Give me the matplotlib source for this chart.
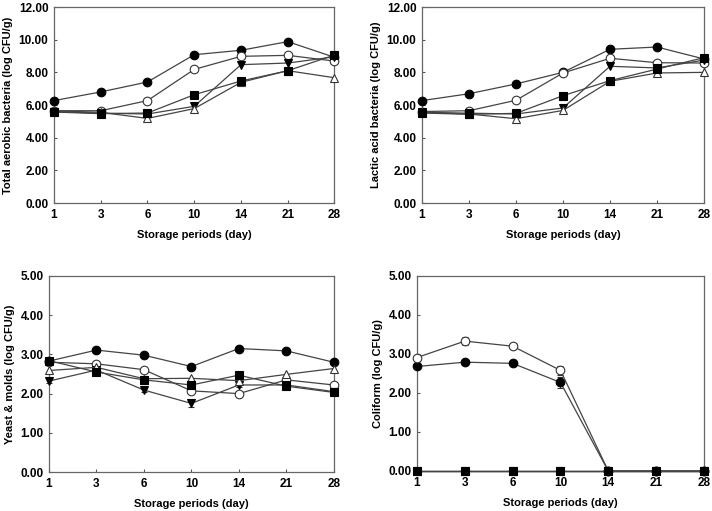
import numpy as np
import matplotlib
matplotlib.use("Agg")
import matplotlib.pyplot as plt

plt.rcParams["font.family"] = ["Liberation Sans", "DejaVu Sans"]
plt.rcParams["font.weight"] = "bold"

days = ["1", "3", "6", "10", "14", "21", "28"]

# total aerobic bacteria
tab_fc = [6.27, 6.80, 7.41, 9.08, 9.35, 9.88, 8.92]
tab_oc = [5.65, 5.65, 6.27, 8.18, 8.98, 9.04, 8.69]
tab_dt = [5.60, 5.50, 5.45, 5.92, 8.47, 8.57, 8.95]
tab_ot = [5.65, 5.55, 5.18, 5.78, 7.39, 8.10, 7.67]
tab_sq = [5.57, 5.47, 5.51, 6.63, 7.47, 8.10, 9.06]

# lactic acid bacteria
lab_fc = [6.27, 6.69, 7.29, 8.00, 9.41, 9.55, 8.82]
lab_oc = [5.60, 5.65, 6.29, 7.96, 8.86, 8.59, 8.57]
lab_dt = [5.55, 5.50, 5.45, 5.82, 8.37, 8.27, 8.75]
lab_ot = [5.55, 5.45, 5.16, 5.67, 7.45, 7.96, 8.00]
lab_sq = [5.51, 5.43, 5.49, 6.57, 7.49, 8.20, 8.90]

# yeast & molds
ym_fc = [2.83, 3.11, 2.98, 2.69, 3.15, 3.09, 2.80]
ym_oc = [2.80, 2.76, 2.61, 2.07, 2.00, 2.35, 2.22]
ym_dt = [2.32, 2.60, 2.09, 1.75, 2.22, 2.22, 2.05]
ym_ot = [2.59, 2.67, 2.38, 2.39, 2.33, 2.49, 2.64]
ym_sq = [2.84, 2.55, 2.35, 2.22, 2.47, 2.19, 2.03]
ym_dt_err = [0.06, 0.04, 0.04, 0.08, 0.05, 0.04, 0.04]

# coliform
col_fc = [2.68, 2.79, 2.76, 2.27, 0, 0, 0]
col_oc = [2.91, 3.33, 3.20, 2.58, 0, 0, 0]
col_dt = [0, 0, 0, 0, 0, 0, 0]
col_ot = [0, 0, 0, 0, 0, 0, 0]
col_sq = [0, 0, 0, 0, 0, 0, 0]
col_fc_err = [0.05, 0.04, 0.08, 0.15, 0, 0, 0]
col_oc_err = [0.05, 0.10, 0.04, 0.12, 0, 0, 0]

line_c = "#444444"
styles = [
    dict(marker="o", mfc="black", mec="black"),
    dict(marker="o", mfc="white", mec="#333333"),
    dict(marker="v", mfc="black", mec="black"),
    dict(marker="^", mfc="white", mec="#333333"),
    dict(marker="s", mfc="black", mec="black"),
]

fig = plt.figure(figsize=(7.12, 5.11), dpi=100)

panels = [
    ([0.0758, 0.6027, 0.394, 0.3836], [tab_fc, tab_oc, tab_dt, tab_ot, tab_sq],
     [None] * 5, 12, "Total aerobic bacteria (log CFU/g)"),
    ([0.5927, 0.6027, 0.396, 0.3836], [lab_fc, lab_oc, lab_dt, lab_ot, lab_sq],
     [None] * 5, 12, "Lactic acid bacteria (log CFU/g)"),
    ([0.0688, 0.0763, 0.400, 0.3836], [ym_fc, ym_oc, ym_dt, ym_ot, ym_sq],
     [None, None, ym_dt_err, None, None], 5, "Yeast & molds (log CFU/g)"),
    ([0.5857, 0.0783, 0.403, 0.3816], [col_fc, col_oc, col_dt, col_ot, col_sq],
     [col_fc_err, col_oc_err, None, None, None], 5, "Coliform (log CFU/g)"),
]

x = np.arange(len(days))
for rect, series, errs, ymax, ylabel in panels:
    ax = fig.add_axes(rect)
    for vals, err, st in zip(series, errs, styles):
        ax.errorbar(x, vals, yerr=err, color=line_c, lw=0.9, ms=6.2,
                    mew=0.8, capsize=2.5, elinewidth=0.8, ecolor="#333333",
                    clip_on=False, zorder=3, **st)
    ax.set_xlim(0, 6)
    ax.set_ylim(0, ymax)
    ax.set_xticks(x)
    ax.set_xticklabels(days)
    step = 2 if ymax == 12 else 1
    ax.set_yticks(np.arange(0, ymax + 0.1, step))
    ax.set_yticklabels([f"{v:.2f}" for v in np.arange(0, ymax + 0.1, step)])
    ax.tick_params(direction="in", length=2.5, width=0.8, color="#555555",
                   labelsize=8.5, pad=4)
    for lab in ax.get_xticklabels() + ax.get_yticklabels():
        lab.set_fontweight("bold")
    for sp in ax.spines.values():
        sp.set_color("#666666")
        sp.set_linewidth(0.9)
    ax.set_xlabel("Storage periods (day)", fontsize=8, fontweight="bold", labelpad=7)
    ax.set_ylabel(ylabel, fontsize=8, fontweight="bold", labelpad=4)

fig.savefig("out.png", dpi=100)
